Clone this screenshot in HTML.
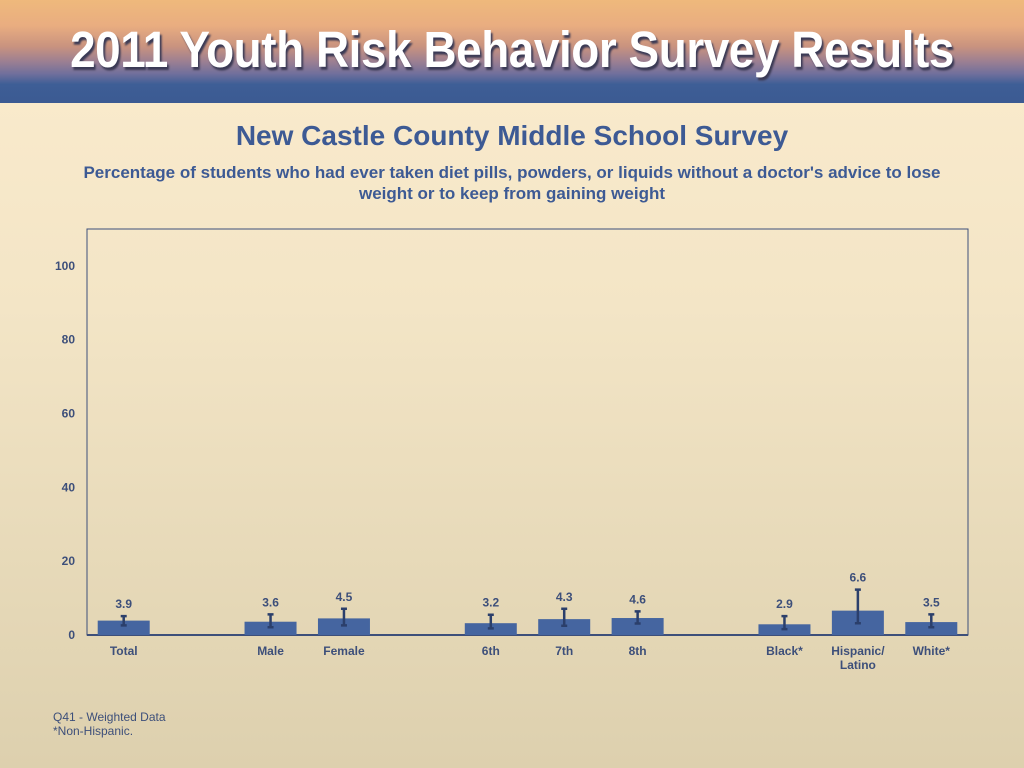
<!DOCTYPE html>
<html><head><meta charset="utf-8"><style>
body{margin:0;width:1024px;height:768px;overflow:hidden;font-family:"Liberation Sans",sans-serif;background:linear-gradient(#fcecce,#f3e5c6 40%,#ddd0ae);position:relative}
#hdr{position:absolute;left:0;top:0;width:1024px;height:103px;background:linear-gradient(#efb97c 0%,#e9ad80 25%,#c9937f 45%,#9b7f92 60%,#6f6f9c 72%,#3e5e96 82%,#3b5a92 100%)}
#hdr div{position:absolute;left:0;width:1024px;text-align:center;top:20px;font-size:51px;font-weight:bold;color:#fff;text-shadow:2px 3px 2px #3a3a55;letter-spacing:-0.5px;transform:scaleX(0.9)}
.t{position:absolute;left:0;width:1024px;text-align:center;color:#3d5a94;font-weight:bold}
svg{position:absolute;left:0;top:0}
text{font-family:"Liberation Sans",sans-serif;font-weight:bold;fill:#3d4f7a}
</style></head><body>
<div id="hdr"><div>2011 Youth Risk Behavior Survey Results</div></div>
<div class="t" style="top:120px;font-size:28px">New Castle County Middle School Survey</div>
<div class="t" style="top:162px;font-size:17px;line-height:21px;padding:0 40px;box-sizing:border-box">Percentage of students who had ever taken diet pills, powders, or liquids without a doctor's advice to lose<br>weight or to keep from gaining weight</div>
<div style="position:absolute;left:53px;top:710px;font-size:12px;color:#3d4f7a;line-height:14px">Q41 - Weighted Data<br>*Non-Hispanic.</div>
<svg id="c" width="1024" height="768"></svg>
<script>
const categories=["Total","","Male","Female","","6th","7th","8th","","Black*","Hispanic/|Latino","White*"];
const values=[3.9,null,3.6,4.5,null,3.2,4.3,4.6,null,2.9,6.6,3.5];
const lower=[2.6,null,2.1,2.6,null,1.8,2.5,3.1,null,1.6,3.2,2.1];
const upper=[5.1,null,5.6,7.1,null,5.5,7.1,6.4,null,5.1,12.3,5.6];
const yTicks=[0,20,40,60,80,100];
const L=87,R=968,T=229,B=635,ymax=110;
const svg=document.getElementById('c');const NS='http://www.w3.org/2000/svg';
const y=v=>B-(v/ymax)*(B-T);
const slot=(R-L)/categories.length;
const x=i=>L+slot*(i+0.5);
function mk(t,a){const e=document.createElementNS(NS,t);for(const k in a)e.setAttribute(k,a[k]);svg.appendChild(e);return e;}
const frame=mk('rect',{x:L,y:T,width:R-L,height:B-T,fill:'none',stroke:'#3d4f7a','stroke-width':1});


const base=mk('line',{x1:L,x2:R,y1:B,y2:B,stroke:'#3d4f7a','stroke-width':2});


yTicks.forEach(v=>{const t=mk('text',{x:75,y:y(v)+4,'text-anchor':'end','font-size':12});t.textContent=v;

});
categories.forEach((c,i)=>{
 if(values[i]!=null){
  const bw=52,cx=x(i);
  const r=mk('rect',{x:cx-bw/2,y:y(values[i]),width:bw,height:B-y(values[i]),fill:'#4565a0'});
  
  
  const g=mk('path',{d:`M${cx},${y(lower[i])}V${y(upper[i])}M${cx-3},${y(lower[i])}H${cx+3}M${cx-3},${y(upper[i])}H${cx+3}`,stroke:'#2b3f6b','stroke-width':2.5,fill:'none'});
  
  
  const lab=mk('text',{x:cx,y:Math.min(y(upper[i]),y(values[i]))-8,'text-anchor':'middle','font-size':12});lab.textContent=values[i].toFixed(1);
  
  
 }
 if(c){c.split('|').forEach((p,j)=>{const t=mk('text',{x:x(i),y:655+j*14,'text-anchor':'middle','font-size':12});t.textContent=p;
  
  });}
});
</script>
</body></html>
